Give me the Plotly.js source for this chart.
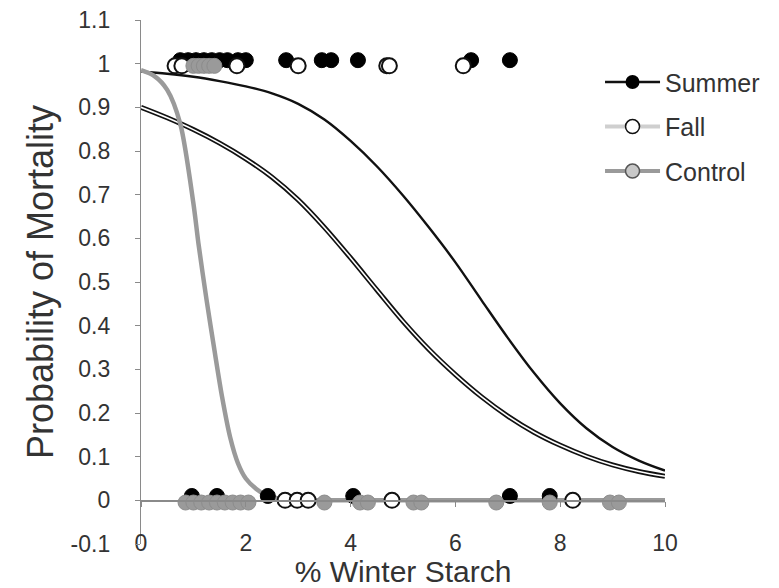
<!DOCTYPE html>
<html>
<head>
<meta charset="utf-8">
<script src="https://cdn.plot.ly/plotly-3.0.1.min.js"></script>
<style>html,body{margin:0;padding:0;background:#fff;}#chart{width:779px;height:588px;}</style>
</head>
<body>
<div id="chart"></div>
<script>
// Fitted curves
var summerCurveX = [0, 0.5, 1, 1.5, 2, 2.5, 3, 3.5, 4, 4.5, 5, 5.5, 6, 6.5, 7, 7.5, 8, 8.5, 9, 9.5, 10];
var summerCurveY = [0.982, 0.977, 0.970, 0.960, 0.948, 0.932, 0.908, 0.872, 0.823, 0.765, 0.698, 0.624, 0.545, 0.458, 0.372, 0.292, 0.222, 0.165, 0.122, 0.091, 0.068];
var fallCurveX = [0, 0.5, 1, 1.5, 2, 2.5, 3, 3.5, 4, 4.5, 5, 5.5, 6, 6.5, 7, 7.5, 8, 8.5, 9, 9.5, 10];
var fallCurveY = [0.900, 0.876, 0.849, 0.818, 0.782, 0.740, 0.688, 0.625, 0.555, 0.482, 0.410, 0.345, 0.288, 0.237, 0.193, 0.156, 0.126, 0.101, 0.081, 0.066, 0.055];
var controlCurveX = [0, 0.25, 0.5, 0.75, 1.0, 1.1, 1.25, 1.4, 1.55, 1.7, 1.85, 2.0, 2.2, 2.4, 2.7, 3.0, 4.0, 10];
var controlCurveY = [0.985, 0.972, 0.940, 0.862, 0.680, 0.585, 0.460, 0.345, 0.235, 0.145, 0.085, 0.050, 0.026, 0.011, 0.003, 0.001, 0, 0];

// Observed points (dead = top, alive = bottom)
var summerDeadX = [0.75, 0.9, 1.05, 1.2, 1.35, 1.5, 1.65, 1.85, 2.0, 2.77, 3.45, 3.63, 4.14, 6.3, 7.04];
var summerDeadY = [1.008, 1.008, 1.008, 1.008, 1.008, 1.008, 1.008, 1.008, 1.008, 1.008, 1.008, 1.008, 1.008, 1.008, 1.008];
var summerAliveX = [0.97, 1.45, 2.42, 4.05, 7.04, 7.8];
var summerAliveY = [0.01, 0.01, 0.01, 0.01, 0.01, 0.01];
var fallDeadX = [0.65, 0.78, 1.83, 3.0, 4.69, 4.74, 6.15];
var fallDeadY = [0.995, 0.995, 0.995, 0.995, 0.995, 0.995, 0.995];
var fallAliveX = [2.75, 2.98, 3.19, 4.79, 8.24];
var fallAliveY = [0, 0, 0, 0, 0];
var controlDeadX = [1.0, 1.1, 1.2, 1.3, 1.4];
var controlDeadY = [0.995, 0.995, 0.995, 0.995, 0.995];
var controlAliveX = [0.85, 1.0, 1.15, 1.3, 1.45, 1.6, 1.75, 1.9, 2.05, 3.5, 4.18, 4.33, 5.2, 5.35, 6.78, 7.8, 8.95, 9.12];
var controlAliveY = [-0.005, -0.005, -0.005, -0.005, -0.005, -0.005, -0.005, -0.005, -0.005, -0.005, -0.005, -0.005, -0.005, -0.005, -0.005, -0.005, -0.005, -0.005];

var seriesNames = ["Summer", "Fall", "Control"];
var xTickVals = [0, 2, 4, 6, 8, 10];
var xTickText = ["0", "2", "4", "6", "8", "10"];
var yTickVals = [-0.1, 0, 0.1, 0.2, 0.3, 0.4, 0.5, 0.6, 0.7, 0.8, 0.9, 1.0, 1.1];
var yTickText = ["-0.1", "0", "0.1", "0.2", "0.3", "0.4", "0.5", "0.6", "0.7", "0.8", "0.9", "1", "1.1"];

var GRAY = "#9a9a9a";
var FONT = "Liberation Sans, Arial, sans-serif";
var TXT = "#333333";

var traces = [];
// curves
traces.push({x: summerCurveX, y: summerCurveY, mode: "lines", line: {color: "#111", width: 2.4, shape: "spline"}, showlegend: false, hoverinfo: "skip"});
traces.push({x: fallCurveX, y: fallCurveY, mode: "lines", line: {color: "#111", width: 5, shape: "spline"}, showlegend: false, hoverinfo: "skip"});
traces.push({x: fallCurveX, y: fallCurveY, mode: "lines", line: {color: "#fff", width: 1.6, shape: "spline"}, showlegend: false, hoverinfo: "skip"});
traces.push({x: controlCurveX, y: controlCurveY, mode: "lines", line: {color: GRAY, width: 4.5, shape: "spline", smoothing: 0.8}, showlegend: false, hoverinfo: "skip"});
// points
var mSummer = {color: "#000", size: 15, line: {color: "#000", width: 1}};
var mFall = {color: "#fff", size: 15, line: {color: "#111", width: 2}};
var mControl = {color: GRAY, size: 15, line: {color: "#8c8c8c", width: 1}};
traces.push({x: summerDeadX, y: summerDeadY, mode: "markers", marker: mSummer, showlegend: false});
traces.push({x: summerAliveX, y: summerAliveY, mode: "markers", marker: mSummer, showlegend: false});
traces.push({x: fallDeadX, y: fallDeadY, mode: "markers", marker: mFall, showlegend: false});
traces.push({x: fallAliveX, y: fallAliveY, mode: "markers", marker: mFall, showlegend: false});
traces.push({x: controlDeadX, y: controlDeadY, mode: "markers", marker: mControl, showlegend: false});
traces.push({x: controlAliveX, y: controlAliveY, mode: "markers", marker: mControl, showlegend: false});
// legend entries
traces.push({x: [null], y: [null], xaxis: "x2", name: seriesNames[0], legendgroup: "a", mode: "lines+markers",
  line: {color: "#111", width: 2.5}, marker: {color: "#000", size: 14}});
traces.push({x: [null], y: [null], xaxis: "x2", name: seriesNames[1], legendgroup: "b", mode: "lines+markers",
  line: {color: "#cfcfcf", width: 4}, marker: {color: "#fff", size: 14, line: {color: "#111", width: 1.5}}});
traces.push({x: [null], y: [null], xaxis: "x2", name: seriesNames[2], legendgroup: "c", mode: "lines+markers",
  line: {color: GRAY, width: 4}, marker: {color: "#c8c8c8", size: 14, line: {color: "#555", width: 1.5}}});

var layout = {
  width: 779, height: 588,
  margin: {l: 141, r: 114, t: 20, b: 44},
  paper_bgcolor: "#fff", plot_bgcolor: "#fff",
  font: {family: FONT, color: TXT},
  showlegend: true,
  legend: {x: 0.876, y: 0.925, xanchor: "left", yanchor: "top", bgcolor: "rgba(0,0,0,0)",
    font: {family: FONT, size: 25, color: TXT}, tracegroupgap: 9, traceorder: "grouped", itemwidth: 55},
  xaxis: {range: [0, 10], tickvals: xTickVals, ticktext: xTickText, showline: false, ticks: "",
    showgrid: false, zeroline: false, tickfont: {size: 23, color: TXT}, ticklabelstandoff: -17,
    title: {text: "% Winter Starch", font: {size: 30, color: TXT}, standoff: 0}},
  xaxis2: {overlaying: "x", anchor: "free", position: 0.1 / 1.2, range: [0, 10], dtick: 2, tick0: 0,
    showline: true, linecolor: "#8a8a8a", linewidth: 1.2, ticks: "outside", ticklen: 5, tickcolor: "#8a8a8a",
    showticklabels: false, showgrid: false, zeroline: false},
  yaxis: {range: [-0.1, 1.1], tickvals: yTickVals, ticktext: yTickText, showline: true, linecolor: "#8a8a8a",
    linewidth: 1.2, ticks: "outside", ticklen: 5, tickcolor: "#8a8a8a", showgrid: false, zeroline: false,
    tickfont: {size: 23, color: TXT}, ticklabelstandoff: 20,
    title: {text: "Probability of Mortality", font: {size: 36, color: TXT}, standoff: 6}}
};

Plotly.newPlot("chart", traces, layout, {displayModeBar: false, staticPlot: true});
</script>
</body>
</html>
